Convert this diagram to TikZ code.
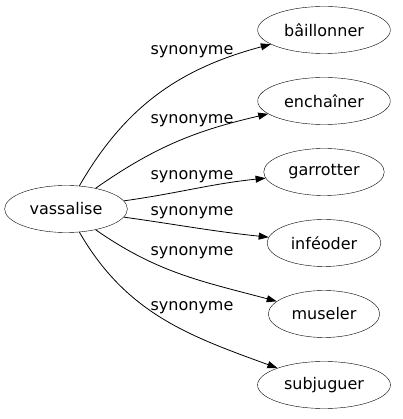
\documentclass[tikz,border=0pt]{standalone}
\usepackage{fontspec}
\setmainfont{DejaVu Sans}
\usetikzlibrary{arrows.meta,shapes.geometric,positioning}

\tikzset{
  mot/.style={draw,ellipse,minimum height=47pt,inner xsep=7pt,font=\fontsize{16}{18}\selectfont},
  lien/.style={-{Triangle[length=10pt,width=7pt]},line width=0.8pt},
  etiq/.style={font=\fontsize{16}{18}\selectfont,inner sep=0pt}
}

\begin{document}
\begin{tikzpicture}[x=1pt,y=1pt]
   \useasboundingbox (0,0) rectangle (402,419);
   \node[mot] (vas) at (66,210) {vassalise};
   \node[mot] (bai) at (324,389) {bâillonner};
   \node[mot] (enc) at (324,318) {enchaîner};
   \node[mot] (gar) at (324,247) {garrotter};
   \node[mot] (inf) at (324,176) {inféoder};
   \node[mot] (mus) at (324,105) {museler};
   \node[mot] (sub) at (324,34) {subjuguer};
   % edges
   \path[lien]
    (vas) edge[out=60,in=195] (bai)
    (vas) edge[out=35,in=193] (enc)
    (vas) edge[out=8,in=186] (gar)
    (vas) edge[out=-8,in=174] (inf)
    (vas) edge[out=-35,in=165] (mus)
    (vas) edge[out=-60,in=160] (sub);
   % labels
   \node[etiq] (l1) at (192,367) {synonyme};
   \node[etiq] (l2) at (192,298) {synonyme};
   \node[etiq] (l3) at (192,242) {synonyme};
   \node[etiq] (l4) at (192,206) {synonyme};
   \node[etiq] (l5) at (192,166) {synonyme};
   \node[etiq] (l6) at (192,111) {synonyme};
\end{tikzpicture}
\end{document}
